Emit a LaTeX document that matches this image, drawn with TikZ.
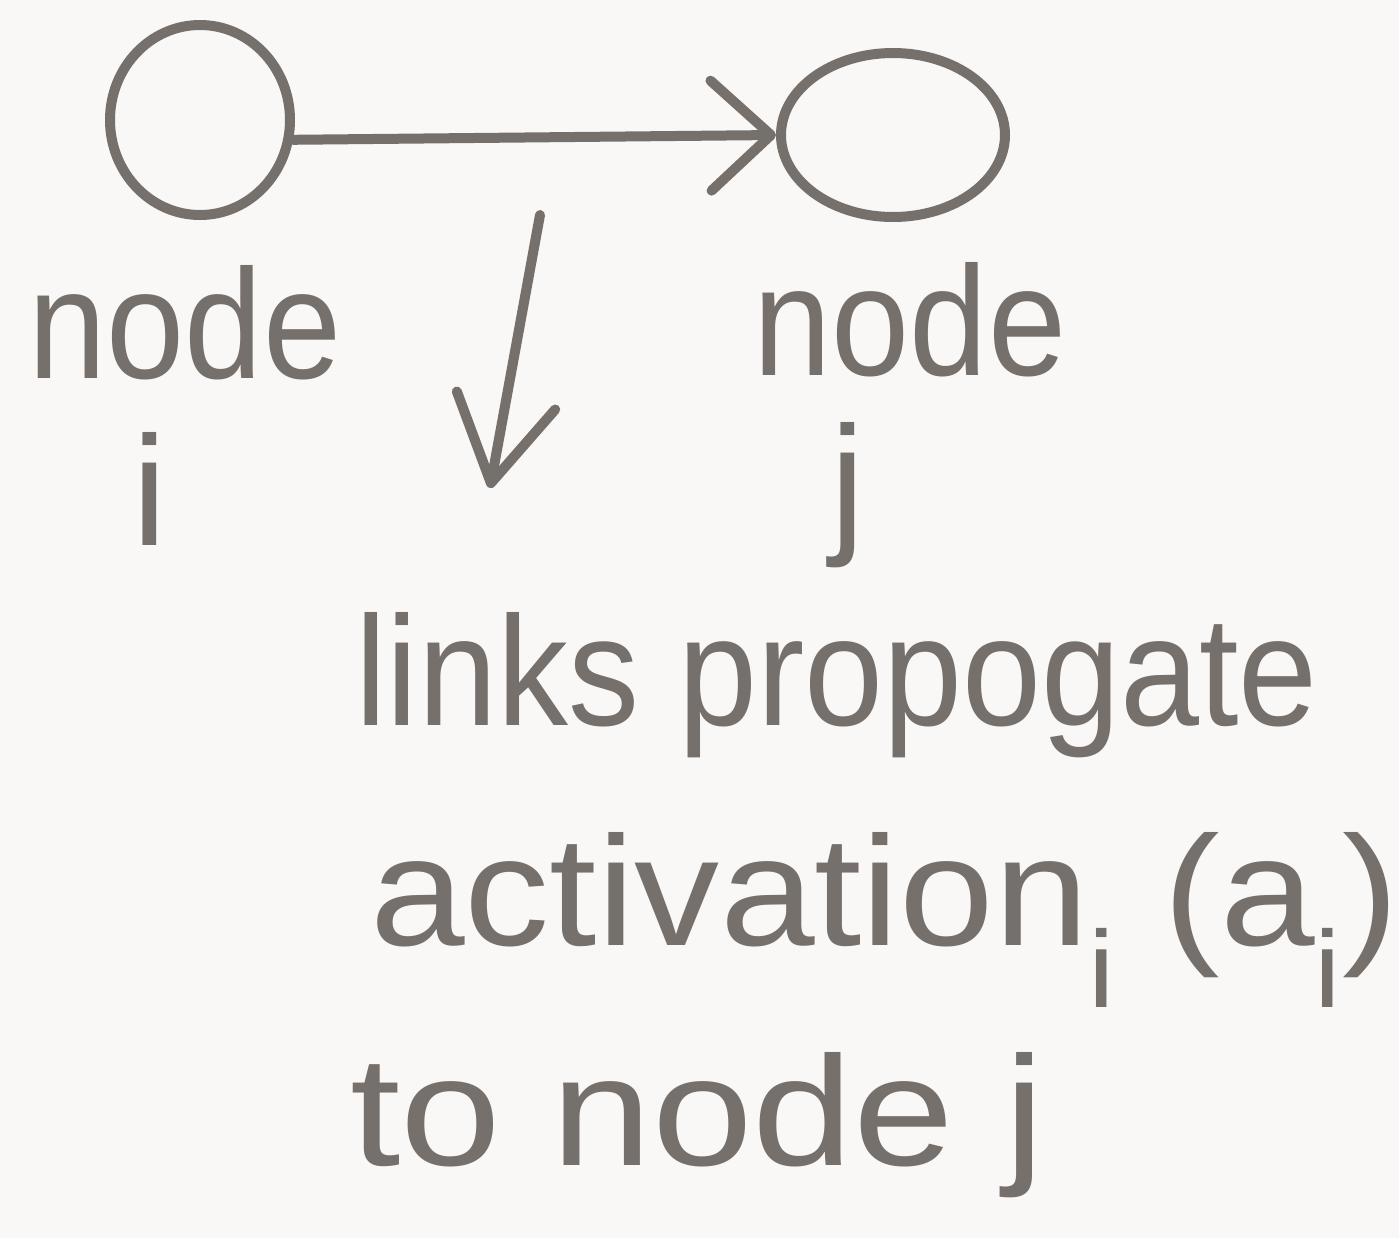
\documentclass[tikz,border=0pt]{standalone}
\usepackage{fontspec}
\setmainfont{Liberation Sans}
\usetikzlibrary{arrows.meta,shapes.geometric}
\definecolor{ink}{RGB}{118,112,108}
\definecolor{paper}{RGB}{249,248,246}
\begin{document}
\begin{tikzpicture}[x=0.5pt,y=-0.5pt,
  inkline/.style={draw=ink,line width=5pt,line cap=round,line join=round},
  lbl/.style={text=ink,inner sep=0pt,font=\fontsize{78}{90}\selectfont},
  circ/.style={ellipse,inkline,inner sep=0pt},
]
\fill[paper] (0,0) rectangle (1399,1238);
\useasboundingbox (0,0) rectangle (1399,1238);
\node[circ, minimum width=90pt, minimum height=95pt] (ni) at (200,120) {};
\node[circ, minimum width=112pt, minimum height=82pt] (nj) at (893,135) {};
\draw[inkline, -{Straight Barb[length=30pt,width=55pt,round]}] (ni.-12) -- (nj.west);
\coordinate (d1) at (540,215);
\coordinate (d2) at (490,488);
\draw[inkline, -{Straight Barb[length=42pt,width=50pt,round]}] (d1) -- (d2);
\node[lbl,anchor=base] (li) at (185,378) {\scalebox{0.9}[1]{node}};
\node[lbl,anchor=base] (ii) at (150,545) {i};
\node[lbl,anchor=base] (lj) at (910,375) {\scalebox{0.9}[1]{node}};
\node[lbl,anchor=base] (jj) at (848,535) {j};
\node[lbl,anchor=base west] (t1) at (355,725) {\scalebox{0.91}[1]{links propogate}};
\node[lbl,anchor=base west] (t2) at (370,945) {\scalebox{1.09}[1]{activation\textsubscript{i} (a\textsubscript{i})}};
\node[lbl,anchor=base west] (t3) at (350,1165) {\scalebox{1.16}[1]{to node j}};
\end{tikzpicture}
\end{document}
